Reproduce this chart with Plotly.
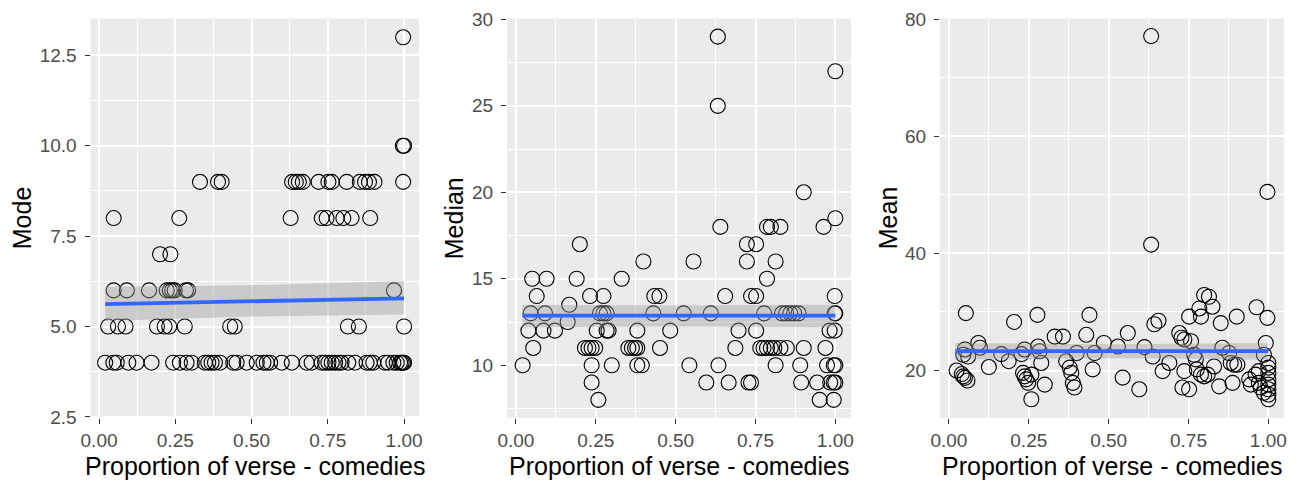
import plotly.graph_objects as go

# ---------------- data ----------------
# Panel 1: Mode (grouped by value)
mode_x_13 = [0.997]
mode_x_10 = [0.996, 1.0]
mode_x_9 = [0.331, 0.39, 0.402, 0.633, 0.645, 0.655, 0.668, 0.72, 0.752, 0.763,
            0.812, 0.855, 0.872, 0.885, 0.903, 0.997]
mode_x_8 = [0.048, 0.263, 0.628, 0.73, 0.746, 0.779, 0.801, 0.828, 0.889]
mode_x_7 = [0.2, 0.234]
mode_x_6 = [0.048, 0.091, 0.164, 0.222, 0.232, 0.24, 0.248, 0.285, 0.292, 0.967]
mode_x_5 = [0.03, 0.062, 0.087, 0.19, 0.215, 0.23, 0.281, 0.43, 0.445, 0.816, 0.852, 1.0]
mode_x_4 = [0.02, 0.047, 0.058, 0.096, 0.123, 0.172, 0.243, 0.265, 0.287, 0.304,
            0.347, 0.358, 0.369, 0.38, 0.397, 0.44, 0.451, 0.484, 0.517, 0.539,
            0.55, 0.561, 0.599, 0.632, 0.681, 0.697, 0.73, 0.741, 0.752, 0.763,
            0.774, 0.785, 0.795, 0.817, 0.839, 0.877, 0.888, 0.899, 0.937, 0.948,
            0.965, 0.976, 0.987, 0.992, 0.997, 1.0]
mode_groups = {13: mode_x_13, 10: mode_x_10, 9: mode_x_9, 8: mode_x_8, 7: mode_x_7,
               6: mode_x_6, 5: mode_x_5, 4: mode_x_4}

# Panel 2: Median
median_x = [0.632, 0.632, 1.0, 0.901, 1.0,
            0.64, 0.786, 0.798, 0.828, 0.963,
            0.2, 0.723, 0.752,
            0.399, 0.556, 0.723, 0.813,
            0.051, 0.096, 0.19, 0.331, 0.786,
            0.065, 0.232, 0.274, 0.433, 0.449, 0.655, 0.736, 0.752, 0.998,
            0.167,
            0.046, 0.091, 0.263, 0.274, 0.284, 0.43, 0.525, 0.61, 0.777, 0.833,
            0.846, 0.859, 0.871, 0.885, 0.998, 1.0,
            0.162,
            0.039, 0.086, 0.122, 0.253, 0.284, 0.29, 0.38, 0.483, 0.697, 0.752,
            0.982, 0.998,
            0.054, 0.216, 0.227, 0.237, 0.248, 0.352, 0.363, 0.373, 0.38, 0.451,
            0.687, 0.765, 0.775, 0.786, 0.798, 0.809, 0.828, 0.848, 0.901, 0.969,
            0.021, 0.237, 0.3, 0.38, 0.394, 0.543, 0.634, 0.813, 0.89, 0.974,
            0.995, 1.0,
            0.237, 0.596, 0.666, 0.728, 0.736, 0.893, 0.943, 0.984, 0.995, 1.0,
            0.258, 0.951, 0.995]
median_y = [29, 25, 27, 20, 18.5,
            18, 18, 18, 18, 18,
            17, 17, 17,
            16, 16, 16, 16,
            15, 15, 15, 15, 15,
            14, 14, 14, 14, 14, 14, 14, 14, 14,
            13.5,
            13, 13, 13, 13, 13, 13, 13, 13, 13, 13,
            13, 13, 13, 13, 13, 13,
            12.5,
            12, 12, 12, 12, 12, 12, 12, 12, 12, 12,
            12, 12,
            11, 11, 11, 11, 11, 11, 11, 11, 11, 11,
            11, 11, 11, 11, 11, 11, 11, 11, 11, 11,
            10, 10, 10, 10, 10, 10, 10, 10, 10, 10,
            10, 10,
            9, 9, 9, 9, 9, 9, 9, 9, 9, 9,
            8, 8, 8]

# Panel 3: Mean
mean_x = [0.633, 0.633, 0.997,
          0.024, 0.04, 0.045, 0.05, 0.058, 0.053, 0.05, 0.045, 0.06, 0.092, 0.097,
          0.125, 0.164, 0.187, 0.204, 0.227, 0.237, 0.232, 0.237, 0.242, 0.248,
          0.258, 0.258, 0.277, 0.279, 0.284, 0.289, 0.3, 0.331, 0.357, 0.367,
          0.378, 0.383, 0.388, 0.393, 0.4, 0.43, 0.44, 0.45, 0.456, 0.485,
          0.529, 0.544, 0.56, 0.596, 0.612, 0.638, 0.643, 0.656, 0.669, 0.69,
          0.721, 0.728, 0.737, 0.758, 0.737, 0.731, 0.752, 0.752, 0.768, 0.773,
          0.776, 0.789, 0.799, 0.81, 0.784, 0.789, 0.799, 0.814, 0.825, 0.83,
          0.846, 0.851, 0.856, 0.877, 0.882, 0.893, 0.903, 0.888, 0.901, 0.94,
          0.945, 0.96, 0.97, 0.963, 0.97, 0.976, 0.986, 0.997, 0.992, 0.986,
          1.0, 1.0, 1.0, 1.0, 1.0, 1.0, 1.0, 1.0]
mean_y = [77.1, 41.5, 50.5,
          20.0, 19.4, 19.0, 18.75, 18.3, 29.8, 23.6, 22.7, 22.4, 24.7, 23.9,
          20.6, 22.8, 21.6, 28.3, 22.8, 23.6, 19.6, 19.0, 18.5, 17.9,
          19.3, 15.1, 29.5, 24.1, 23.3, 21.3, 17.6, 25.8, 25.8, 21.6,
          20.5, 19.6, 17.9, 17.1, 23.0, 26.1, 29.5, 20.2, 23.0, 24.7,
          24.1, 18.8, 26.4, 16.8, 24.0, 22.4, 27.9, 28.5, 19.9, 21.3,
          26.4, 25.6, 25.3, 25.0, 19.9, 17.1, 16.8, 29.2, 22.7, 21.9,
          20.2, 19.3, 19.0, 19.3, 30.6, 29.2, 32.9, 32.6, 30.9, 20.7,
          17.3, 28.1, 23.9, 23.0, 21.3, 21.0, 21.0, 17.9, 29.2, 18.5,
          17.6, 19.3, 19.9, 30.8, 17.9, 17.1, 16.2, 29.0, 24.7, 22.7,
          21.3, 20.5, 19.6, 18.5, 17.6, 16.8, 15.9, 15.1]

# Fitted lines and confidence ribbons
fit_x = [0.02, 0.5, 1.0]
mode_fit = [5.62, 5.70, 5.78]
mode_lo = [5.15, 5.28, 5.33]
mode_hi = [6.10, 6.14, 6.26]
median_fit = [12.87, 12.87, 12.87]
median_lo = [12.2, 12.25, 12.2]
median_hi = [13.5, 13.45, 13.5]
mean_fit = [23.3, 23.3, 23.3]
mean_lo = [21.9, 22.1, 21.9]
mean_hi = [24.7, 24.5, 24.7]

x_ticks = [0.0, 0.25, 0.5, 0.75, 1.0]
x_ticklabels = ["0.00", "0.25", "0.50", "0.75", "1.00"]
mode_ticks = [2.5, 5.0, 7.5, 10.0, 12.5]
mode_ticklabels = ["2.5", "5.0", "7.5", "10.0", "12.5"]
median_ticks = [10, 15, 20, 25, 30]
mean_ticks = [20, 40, 60, 80]
x_title = "Proportion of verse - comedies"
y_titles = ["Mode", "Median", "Mean"]

# ---------------- figure ----------------
# The page body has an 8px margin, so the figure is laid out 8px up/left
OFF = 8
W, H = 1303 - OFF, 481 - OFF
FONT = "Arial, Liberation Sans, sans-serif"
fig = go.Figure()

mode_x, mode_y = [], []
for val, xs in mode_groups.items():
    mode_x += xs
    mode_y += [val] * len(xs)

panels = [
    (mode_x, mode_y, mode_fit, mode_lo, mode_hi),
    (median_x, median_y, median_fit, median_lo, median_hi),
    (mean_x, mean_y, mean_fit, mean_lo, mean_hi),
]

for i, (px, py, fit, lo, hi) in enumerate(panels):
    xa = "x" if i == 0 else f"x{i+1}"
    ya = "y" if i == 0 else f"y{i+1}"
    fig.add_trace(go.Scatter(
        x=px, y=py, mode="markers", xaxis=xa, yaxis=ya,
        marker=dict(symbol="circle-open", size=15, color="black",
                    line=dict(width=1.1, color="black")),
        showlegend=False, hoverinfo="x+y"))
    fig.add_trace(go.Scatter(
        x=fit_x + fit_x[::-1], y=hi + lo[::-1], xaxis=xa, yaxis=ya,
        fill="toself", fillcolor="rgba(153,153,153,0.4)", mode="lines",
        line=dict(width=0), showlegend=False, hoverinfo="skip"))
    fig.add_trace(go.Scatter(
        x=fit_x, y=fit, mode="lines", xaxis=xa, yaxis=ya,
        line=dict(color="#3366FF", width=3.8), showlegend=False))

# reference-pixel positions (screen coords), converted to figure coords
xdomains_px = [(90.5, 419), (507, 851), (940, 1284)]
ytop_px, ybot_px = 18.5, 418
xdomains = [((a - OFF) / W, (b - OFF) / W) for a, b in xdomains_px]
ydomain = [(H - (ybot_px - OFF)) / H, (H - (ytop_px - OFF)) / H]
yranges = [[2.47, 13.52], [6.95, 30.05], [11.9, 80.1]]
ytickvals = [mode_ticks, median_ticks, mean_ticks]
yticktext = [mode_ticklabels, [str(v) for v in median_ticks], [str(v) for v in mean_ticks]]
yminor = [dict(dtick=1.25, tick0=0), dict(dtick=2.5, tick0=0), dict(dtick=10, tick0=0)]

axis_common = dict(
    showgrid=True, gridcolor="white", gridwidth=1.6, zeroline=False,
    showline=False, ticks="outside", ticklen=5, tickwidth=1.3, tickcolor="#333333",
    tickfont=dict(family=FONT, size=19, color="#4D4D4D"), automargin=False,
)

layout = dict(
    width=W, height=H, margin=dict(l=0, r=0, t=0, b=0, autoexpand=False),
    paper_bgcolor="white", plot_bgcolor="#EBEBEB",
    showlegend=False, font=dict(family=FONT),
)
for i in range(3):
    xk = "xaxis" if i == 0 else f"xaxis{i+1}"
    yk = "yaxis" if i == 0 else f"yaxis{i+1}"
    ya = "y" if i == 0 else f"y{i+1}"
    xa = "x" if i == 0 else f"x{i+1}"
    layout[xk] = dict(
        axis_common, domain=list(xdomains[i]),
        range=[-0.028, 1.049], tickvals=x_ticks, ticktext=x_ticklabels,
        anchor=ya,
        minor=dict(tickvals=[0.125, 0.375, 0.625, 0.875], showgrid=True,
                   gridcolor="white", gridwidth=0.7, ticks=""),
    )
    layout[yk] = dict(
        axis_common, domain=ydomain, range=yranges[i],
        tickvals=ytickvals[i], ticktext=yticktext[i], anchor=xa,
        ticklabelstandoff=4,
        minor=dict(yminor[i], showgrid=True, gridcolor="white", gridwidth=0.7, ticks=""),
    )
fig.update_layout(**layout)

# axis titles as annotations
xcenters = [((a + b) / 2 - OFF) / W for a, b in xdomains_px]
ytitle_x = [22, 454, 888]
xtitle_y = 466
for i in range(3):
    fig.add_annotation(text=x_title, x=xcenters[i], y=(H - (xtitle_y - OFF)) / H,
                       xref="paper", yref="paper", showarrow=False,
                       xanchor="center", yanchor="middle",
                       font=dict(family=FONT, size=25, color="black"))
    fig.add_annotation(text=y_titles[i], x=(ytitle_x[i] - OFF) / W,
                       y=(ydomain[0] + ydomain[1]) / 2,
                       xref="paper", yref="paper", showarrow=False, textangle=-90,
                       xanchor="center", yanchor="middle",
                       font=dict(family=FONT, size=25, color="black"))

fig.write_html("out.html")
